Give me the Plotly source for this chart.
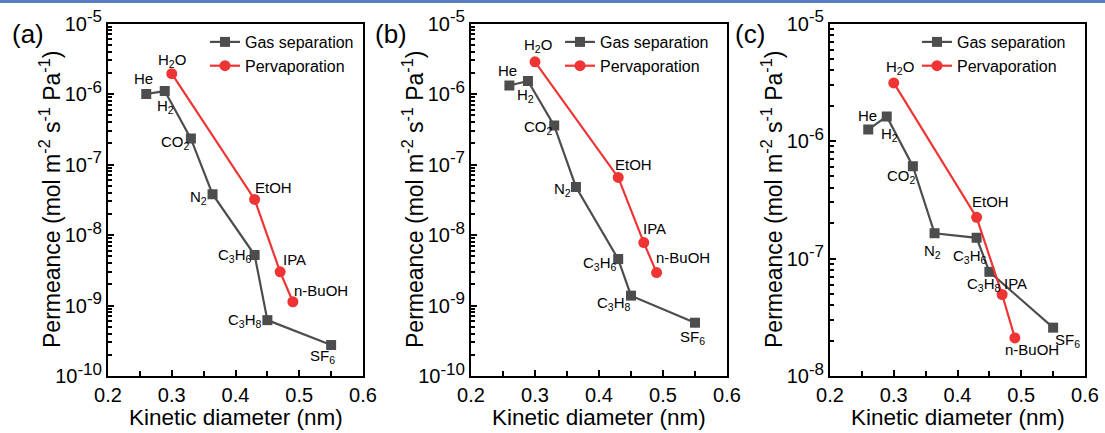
import math
import plotly.graph_objects as go

W, H = 1105, 433

# ---------------- data ----------------
gas_species = ["He", "H<sub>2</sub>", "CO<sub>2</sub>", "N<sub>2</sub>",
               "C<sub>3</sub>H<sub>6</sub>", "C<sub>3</sub>H<sub>8</sub>", "SF<sub>6</sub>"]
gas_diameter = [0.26, 0.289, 0.33, 0.364, 0.43, 0.45, 0.55]

pv_species = ["H<sub>2</sub>O", "EtOH", "IPA", "n-BuOH"]
pv_diameter = [0.30, 0.43, 0.47, 0.49]

gas_a = [1.0e-6, 1.1e-6, 2.33e-7, 3.8e-8, 5.2e-9, 6.2e-10, 2.75e-10]
pv_a = [1.94e-6, 3.2e-8, 3.0e-9, 1.13e-9]

gas_b = [1.32e-6, 1.53e-6, 3.56e-7, 4.8e-8, 4.55e-9, 1.38e-9, 5.7e-10]
pv_b = [2.86e-6, 6.56e-8, 7.8e-9, 2.93e-9]

gas_c = [1.25e-6, 1.62e-6, 6.1e-7, 1.64e-7, 1.50e-7, 7.7e-8, 2.58e-8]
pv_c = [3.12e-6, 2.24e-7, 4.94e-8, 2.11e-8]

panel_labels = ["(a)", "(b)", "(c)"]
y_exponents = [[-10, -9, -8, -7, -6, -5], [-10, -9, -8, -7, -6, -5], [-8, -7, -6, -5]]
x_range = [0.2, 0.6]
x_title = "Kinetic diameter (nm)"
y_title = "Permeance (mol m<sup>-2</sup> s<sup>-1</sup> Pa<sup>-1</sup>)"

# ---------------- layout / style ----------------
FONT = "Liberation Sans, Arial, sans-serif"
GREY = "#4d4d4d"
RED = "#ef3434"

# pixel boxes of each plot area (left, right, top, bottom)
boxes = [(108, 363, 23.5, 376), (471, 727, 23.5, 376), (830, 1085, 23.5, 376)]

# label offsets (px) for each panel: gas then pervaporation
gas_off = [
    [(-3, -15), (1, 15), (-15, 4), (-14, 3), (-20, 0), (-22, 0), (-9, 11)],
    [(-2, -15), (-2, 15), (-16, 2), (-13, 3), (-18, 4), (-17, 8), (-3, 15)],
    [(-1, -14), (3, 18), (-11, 10), (-2, 18), (-7, 19), (-5, 13), (14, 13)],
]
pv_off = [
    [(0, -13), (19, -12), (14, -12), (28, -11)],
    [(3, -16), (15, -13), (11, -14), (26, -15)],
    [(6, -15), (14, -16), (13, -11), (17, 12)],
]
legend_x = [205, 560, 917]

gas_sets = [gas_a, gas_b, gas_c]
pv_sets = [pv_a, pv_b, pv_c]

fig = go.Figure()
annotations = []
layout_axes = {}

for i in range(3):
    l, r, t, b = boxes[i]
    xs = "" if i == 0 else str(i + 1)
    legname = "legend" if i == 0 else f"legend{i+1}"
    fig.add_trace(go.Scatter(
        x=gas_diameter, y=gas_sets[i], mode="lines+markers", name="Gas separation",
        line=dict(color=GREY, width=2.2), marker=dict(symbol="square", size=10, color=GREY),
        xaxis="x" + xs, yaxis="y" + xs, legend=legname))
    fig.add_trace(go.Scatter(
        x=pv_diameter, y=pv_sets[i], mode="lines+markers", name="Pervaporation",
        line=dict(color=RED, width=2.2), marker=dict(symbol="circle", size=11, color=RED),
        xaxis="x" + xs, yaxis="y" + xs, legend=legname))

    exps = y_exponents[i]
    axis_common = dict(showline=True, linecolor="black", linewidth=2, mirror=True,
                       showgrid=False, zeroline=False, ticks="inside", tickwidth=2,
                       tickcolor="black", automargin=False,
                       tickfont=dict(family=FONT, size=20, color="black"))
    layout_axes["xaxis" + xs] = dict(
        axis_common, domain=[l / W, r / W], range=x_range, dtick=0.1, tick0=0.2,
        tickformat=".1f", ticklen=6, anchor="y" + xs,
        minor=dict(ticks="inside", dtick=0.05, ticklen=5, tickwidth=2, tickcolor="black"))
    layout_axes["yaxis" + xs] = dict(
        axis_common, domain=[1 - b / H, 1 - t / H], type="log", range=[exps[0], exps[-1]],
        tickmode="array", tickvals=[10.0 ** e for e in exps],
        ticktext=[f"10<sup><span style='font-size:17px'>{e}</span></sup>" for e in exps],
        ticklen=6, anchor="x" + xs,
        minor=dict(ticks="inside", dtick="D1", ticklen=3.5, tickwidth=1.5, tickcolor="black"))

    # legend
    layout_axes[legname] = dict(
        x=legend_x[i] / W, y=1 - 25 / H, xanchor="left", yanchor="top",
        bgcolor="rgba(0,0,0,0)", borderwidth=0, tracegroupgap=0,
        font=dict(family=FONT, size=16, color="black"), itemwidth=30)

    # point labels
    for name, xv, yv, (dx, dy) in zip(gas_species, gas_diameter, gas_sets[i], gas_off[i]):
        annotations.append(dict(x=xv, y=math.log10(yv), xref="x" + xs, yref="y" + xs,
                                text=name, showarrow=False, xshift=dx, yshift=-dy,
                                font=dict(family=FONT, size=15, color="black")))
    for name, xv, yv, (dx, dy) in zip(pv_species, pv_diameter, pv_sets[i], pv_off[i]):
        annotations.append(dict(x=xv, y=math.log10(yv), xref="x" + xs, yref="y" + xs,
                                text=name, showarrow=False, xshift=dx, yshift=-dy,
                                font=dict(family=FONT, size=15, color="black")))

    # axis titles
    annotations.append(dict(x=(l + r) / 2 / W, y=1 - 417 / H, xref="paper", yref="paper",
                            text=x_title, showarrow=False, xanchor="center", yanchor="middle",
                            font=dict(family=FONT, size=22.5, color="black")))
    annotations.append(dict(x=(l - 58) / W, y=1 - 200 / H, xref="paper", yref="paper",
                            text=y_title, showarrow=False, textangle=-90,
                            xanchor="center", yanchor="middle",
                            font=dict(family=FONT, size=23, color="black")))
    # panel label
    annotations.append(dict(x=(l - 80) / W, y=1 - 34 / H, xref="paper", yref="paper",
                            text=panel_labels[i], showarrow=False, xanchor="center", yanchor="middle",
                            font=dict(family=FONT, size=26, color="black")))

fig.update_layout(
    width=W, height=H, margin=dict(l=0, r=0, t=0, b=0),
    paper_bgcolor="white", plot_bgcolor="white",
    showlegend=True, annotations=annotations,
    shapes=[dict(type="rect", xref="paper", yref="paper", x0=0, x1=1, y0=1 - 3 / H, y1=1,
                 fillcolor="#5b7cbf", line=dict(width=0), layer="above")],
    **layout_axes)

fig.write_html("out.html", config={"displayModeBar": False},
               post_script="document.body.style.margin='0';document.body.style.overflow='hidden';")
